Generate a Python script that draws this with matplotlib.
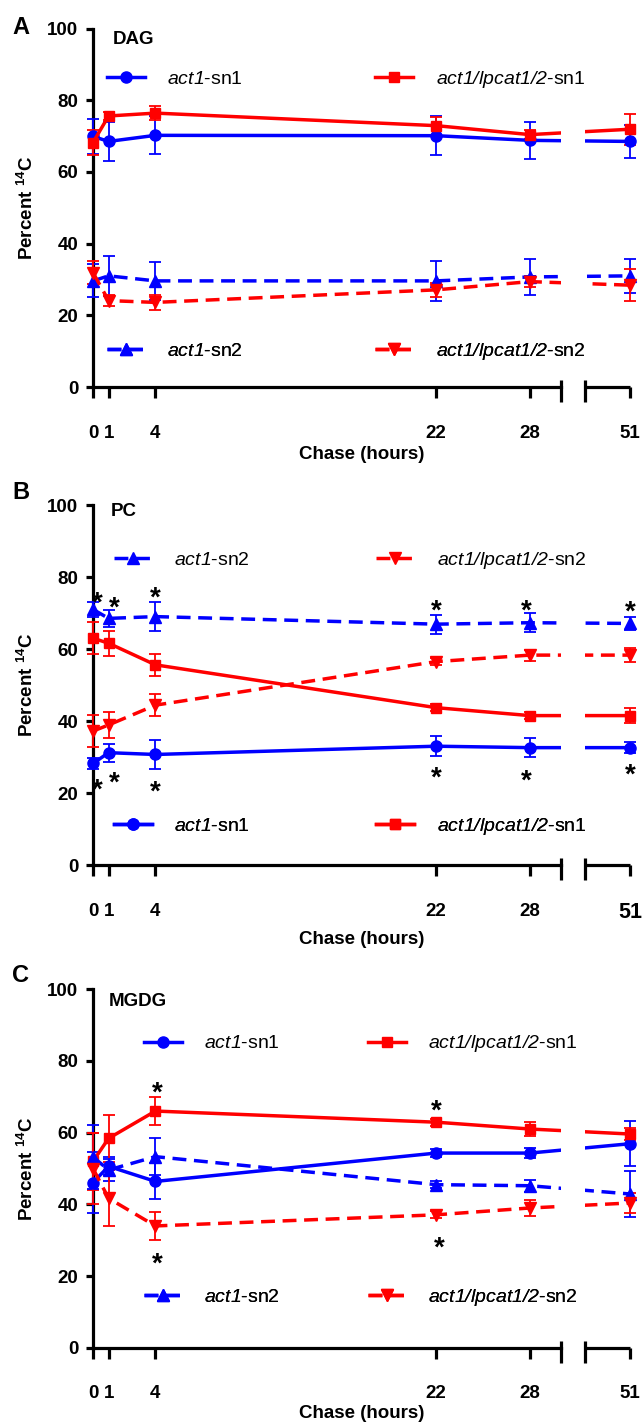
import numpy as np
import matplotlib
matplotlib.use('Agg')
import matplotlib.pyplot as plt
from matplotlib.patches import Rectangle

plt.rcParams['font.family'] = ['Liberation Sans', 'DejaVu Sans']
plt.rcParams['mathtext.fontset'] = 'custom'
# digits and slashes inside \mathit fall back to 'rm', so make 'rm' italic too
plt.rcParams['mathtext.rm'] = 'Liberation Sans:italic'
plt.rcParams['mathtext.it'] = 'Liberation Sans:italic'
plt.rcParams['mathtext.bf'] = 'Liberation Sans:bold'

# ---------------- data ----------------
hours = [0, 1, 4, 22, 28, 51]
hour_labels = ['0', '1', '4', '22', '28', '51']
yticks = [0, 20, 40, 60, 80, 100]

# DAG
dag_act1_sn1 = [69.9, 68.5, 70.2, 70.1, 68.8, 68.5]
dag_act1_sn1_err = [4.8, 5.5, 5.3, 5.5, 5.2, 4.7]
dag_lp_sn1 = [68.2, 75.6, 76.4, 72.9, 70.4, 71.9]
dag_lp_sn1_err = [3.6, 1.2, 2.0, 2.5, 1.2, 4.3]
dag_act1_sn2 = [29.6, 31.0, 29.6, 29.6, 30.7, 31.0]
dag_act1_sn2_err = [4.6, 5.6, 5.3, 5.5, 5.1, 4.7]
dag_lp_sn2 = [31.9, 24.1, 23.6, 27.1, 29.4, 28.4]
dag_lp_sn2_err = [3.3, 1.5, 2.0, 2.0, 1.5, 4.5]

# PC
pc_act1_sn1 = [28.2, 31.2, 30.7, 33.0, 32.6, 32.6]
pc_act1_sn1_err = [1.5, 2.5, 4.0, 2.7, 2.7, 1.6]
pc_lp_sn1 = [63.0, 61.6, 55.6, 43.7, 41.5, 41.5]
pc_lp_sn1_err = [4.4, 3.5, 3.0, 1.0, 1.0, 2.0]
pc_act1_sn2 = [71.0, 68.5, 69.0, 66.9, 67.3, 67.1]
pc_act1_sn2_err = [2.0, 2.4, 4.0, 2.6, 2.6, 1.8]
pc_lp_sn2 = [37.2, 38.9, 44.4, 56.5, 58.3, 58.3]
pc_lp_sn2_err = [4.4, 3.6, 3.0, 1.0, 1.5, 2.0]

# MGDG
mgdg_act1_sn1 = [46.1, 50.6, 46.4, 54.3, 54.3, 56.9]
mgdg_act1_sn1_err = [8.5, 2.5, 5.0, 1.0, 1.4, 6.3]
mgdg_lp_sn1 = [52.0, 58.4, 66.0, 62.9, 61.0, 59.6]
mgdg_lp_sn1_err = [8.0, 6.6, 4.0, 1.0, 1.9, 1.8]
mgdg_act1_sn2 = [53.2, 49.6, 53.3, 45.5, 45.2, 42.9]
mgdg_act1_sn2_err = [9.0, 3.0, 5.1, 1.0, 1.7, 6.4]
mgdg_lp_sn2 = [50.0, 41.7, 34.0, 37.1, 39.0, 40.4]
mgdg_lp_sn2_err = [10.0, 7.8, 4.0, 1.0, 2.2, 2.8]

# significance stars (hour, percent)
pc_stars = [(0.3, 75.0), (1.35, 73.8), (4.0, 76.4), (22, 72.9), (27.8, 72.9), (51, 72.7),
            (0.3, 23.1), (1.35, 25.0), (4.0, 22.7), (22, 26.4), (27.8, 25.6), (51, 27.3)]
mgdg_stars = [(4.1, 73.5), (22, 68.4), (4.1, 25.7), (22.2, 30.1)]

lab_act1_sn1 = r'$\mathit{act1}$-sn1'
lab_act1_sn2 = r'$\mathit{act1}$-sn2'
lab_lp_sn1 = r'$\mathit{act1/lpcat1/2}$-sn1'
lab_lp_sn2 = r'$\mathit{act1/lpcat1/2}$-sn2'

# ---------------- broken axis scale ----------------
BREAK_LO = 30.0
BREAK_HI = 48.12
GAP_U = 1.54
_xd = [-100.0, BREAK_LO, BREAK_HI, 200.0]
_xu = [-100.0, BREAK_LO, BREAK_LO + GAP_U, BREAK_LO + GAP_U + (200.0 - BREAK_HI)]


def fwd(x):
    return np.interp(x, _xd, _xu)


def inv(u):
    return np.interp(u, _xu, _xd)


BLUE = '#0000FF'
RED = '#FF0000'
W, H = 643, 1423
X0_PX, X51_PX = 93, 630

fig = plt.figure(figsize=(W / 100, H / 100), dpi=100)

DASH = (0, (4.0, 2.2))


def series(ax, y, err, color, marker, ms, dashed):
    eb = ax.errorbar(hours, y, yerr=err, color=color, marker=marker, markersize=ms,
                     linewidth=2.5, linestyle=DASH if dashed else '-',
                     elinewidth=1.3, capsize=4, capthick=1.3, clip_on=False, zorder=3)
    for a in eb.lines[1]:
        a.set_clip_on(False)
    for a in eb.lines[2]:
        a.set_clip_on(False)
    return eb[0]


def setup_panel(top_px, bot_px, big51=False):
    h_px = bot_px - top_px
    ax = fig.add_axes([X0_PX / W, 1 - bot_px / H, (X51_PX - X0_PX) / W, h_px / H])
    ax.set_xscale('function', functions=(fwd, inv))
    ax.set_xlim(0, 51)
    ax.set_ylim(0, 100)
    ax.set_facecolor('none')
    for s in ['top', 'right']:
        ax.spines[s].set_visible(False)
    ax.spines['left'].set_linewidth(2.3)
    ax.spines['bottom'].set_linewidth(2.3)
    ax.spines['bottom'].set_bounds(0, BREAK_LO)
    ax.set_xticks(hours)
    ax.set_xticklabels(hour_labels)
    ax.set_yticks(yticks)
    ax.tick_params(axis='x', direction='out', length=8, width=2.3, pad=19, labelsize=13.5)
    ax.tick_params(axis='y', direction='out', length=5, width=2.3, pad=5.5, labelsize=13.5)
    for t in ax.get_xticklabels() + ax.get_yticklabels():
        t.set_fontweight('bold')
    if big51:
        ax.get_xticklabels()[-1].set_fontsize(15.5)
    tr = ax.get_xaxis_transform()
    # right segment of broken axis
    ax.plot([BREAK_HI, max(hours)], [0, 0], transform=tr, color='k', lw=2.3,
            clip_on=False, solid_capstyle='butt', zorder=5)
    for xb in (BREAK_LO, BREAK_HI):
        ax.plot([xb, xb], [-15 / h_px, 7 / h_px], transform=tr, color='k', lw=2.3,
                clip_on=False, solid_capstyle='butt', zorder=5)
    # white gap over data lines
    ax.add_patch(Rectangle((BREAK_LO, 0.004), BREAK_HI - BREAK_LO, 1.0, transform=tr,
                           facecolor='white', edgecolor='none', zorder=4, clip_on=False))
    return ax


def legend_row(ax, handles, labels, y_axes, left_px, colsp):
    leg = ax.legend(handles, labels, loc='center left',
                    bbox_to_anchor=((left_px - X0_PX) / (X51_PX - X0_PX), y_axes),
                    ncol=2, frameon=False, fontsize=14, handlelength=1.95,
                    handletextpad=1.15, columnspacing=colsp, borderpad=0,
                    borderaxespad=0)
    ax.add_artist(leg)


def stars(ax, pts, fs=20):
    for (x, y) in pts:
        ax.annotate('*', xy=(x, y), xytext=(0, -0.58 * fs), textcoords='offset points',
                    ha='center', va='baseline', fontsize=fs, fontweight='bold',
                    annotation_clip=False, zorder=6)


def fig_texts(letter, letter_y, title, title_x, title_y, top_px, bot_px, chase_y):
    fig.text(12 / W, 1 - letter_y / H, letter, fontsize=17, fontweight='bold',
             ha='left', va='center')
    fig.text(title_x / W, 1 - title_y / H, title, fontsize=13.5, fontweight='bold',
             ha='left', va='center')
    fig.text(27 / W, 1 - (top_px + bot_px) / 2 / H, r'Percent $^{\mathbf{14}}$C',
             rotation=90, fontsize=13.5, fontweight='bold', ha='center', va='center')
    fig.text(362 / W, 1 - chase_y / H, 'Chase (hours)', fontsize=13.5,
             fontweight='bold', ha='center', va='center')


# ---------------- Panel A: DAG ----------------
axA = setup_panel(28.5, 387)
hA1 = series(axA, dag_act1_sn1, dag_act1_sn1_err, BLUE, 'o', 8, False)
hA2 = series(axA, dag_lp_sn1, dag_lp_sn1_err, RED, 's', 7.5, False)
hA3 = series(axA, dag_act1_sn2, dag_act1_sn2_err, BLUE, '^', 8.5, True)
hA4 = series(axA, dag_lp_sn2, dag_lp_sn2_err, RED, 'v', 8.5, True)
legend_row(axA, [hA1, hA2], [lab_act1_sn1, lab_lp_sn1], 0.857, 107, 6.8)
legend_row(axA, [hA3, hA4], [lab_act1_sn2, lab_lp_sn2], 0.100, 107, 6.8)
fig_texts('A', 27, 'DAG', 113, 40, 28.5, 387, 455)

# ---------------- Panel B: PC ----------------
axB = setup_panel(505, 865, big51=True)
hB1 = series(axB, pc_act1_sn1, pc_act1_sn1_err, BLUE, 'o', 8, False)
hB2 = series(axB, pc_lp_sn1, pc_lp_sn1_err, RED, 's', 7.5, False)
hB3 = series(axB, pc_act1_sn2, pc_act1_sn2_err, BLUE, '^', 8.5, True)
hB4 = series(axB, pc_lp_sn2, pc_lp_sn2_err, RED, 'v', 8.5, True)
legend_row(axB, [hB3, hB4], [lab_act1_sn2, lab_lp_sn2], 0.847, 114, 6.5)
legend_row(axB, [hB1, hB2], [lab_act1_sn1, lab_lp_sn1], 0.108, 114, 6.5)
stars(axB, pc_stars)
fig_texts('B', 492, 'PC', 111, 511, 505, 865, 940)

# ---------------- Panel C: MGDG ----------------
axC = setup_panel(989, 1348)
hC1 = series(axC, mgdg_act1_sn1, mgdg_act1_sn1_err, BLUE, 'o', 8, False)
hC2 = series(axC, mgdg_lp_sn1, mgdg_lp_sn1_err, RED, 's', 7.5, False)
hC3 = series(axC, mgdg_act1_sn2, mgdg_act1_sn2_err, BLUE, '^', 8.5, True)
hC4 = series(axC, mgdg_lp_sn2, mgdg_lp_sn2_err, RED, 'v', 8.5, True)
legend_row(axC, [hC1, hC2], [lab_act1_sn1, lab_lp_sn1], 0.847, 144, 4.5)
legend_row(axC, [hC3, hC4], [lab_act1_sn2, lab_lp_sn2], 0.142, 144, 4.5)
stars(axC, mgdg_stars)
fig_texts('C', 975, 'MGDG', 109, 1001, 989, 1348, 1414)

fig.savefig('out.png', dpi=100)
